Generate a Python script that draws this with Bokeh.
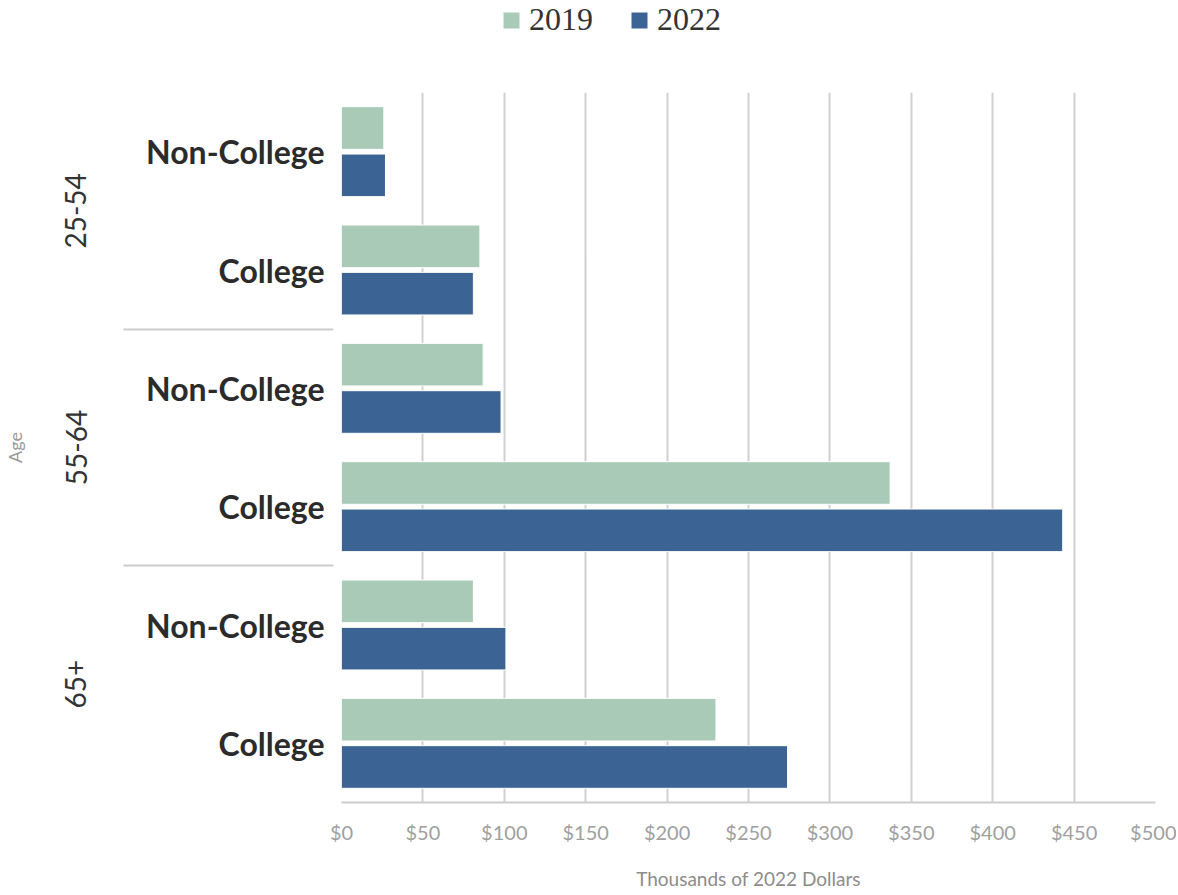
from bokeh.plotting import figure
from bokeh.layouts import column
from bokeh.models import (ColumnDataSource, FactorRange, Range1d, FixedTicker,
                          NumeralTickFormatter, Legend, LegendItem, CategoricalAxis)
from bokeh.transform import dodge
from bokeh.embed import file_html
from bokeh.resources import INLINE

# ---- data ----
ages = ["25-54", "55-64", "65+"]
edu = ["Non-College", "College"]
years = ["2019", "2022"]
v2019 = [26, 85, 87, 337, 81, 230]
v2022 = [27, 81, 98, 443, 101, 274]
x_ticks = [0, 50, 100, 150, 200, 250, 300, 350, 400, 450, 500]
colors = ["#a8cab7", "#3b6494"]

cats = [(a, e) for a in ages for e in edu]
factors = [(a, e) for a in reversed(ages) for e in reversed(edu)]
src = ColumnDataSource(dict(cat=cats, y2019=v2019, y2022=v2022))

W = 1176

# ---- legend strip (its frame is aligned with the chart frame by the column) ----
lg = figure(width=W, height=92, output_backend="svg", toolbar_location=None,
            x_range=Range1d(0, 1), y_range=Range1d(0, 1),
            min_border_left=0, min_border_right=0, min_border_top=0, min_border_bottom=0)
lg.axis.visible = False
lg.grid.visible = False
lg.outline_line_color = None
proxy = ColumnDataSource(dict(y=[0], right=[0]))
lr = [lg.hbar(y="y", right="right", height=0, source=proxy, fill_color=c,
              line_color=None) for c in colors]
legend = Legend(items=[LegendItem(label=yr, renderers=[r]) for yr, r in zip(years, lr)],
                orientation="horizontal", location=(160, 54),
                glyph_width=20, glyph_height=20, label_standoff=8, spacing=36,
                padding=0, margin=0, border_line_color=None,
                background_fill_alpha=0,
                label_text_font="Liberation Serif", label_text_font_size="32px",
                label_text_color="#333333")
lg.add_layout(legend, "center")

# ---- main chart ----
p = figure(width=W, height=801, output_backend="svg", toolbar_location=None,
           y_range=FactorRange(*factors, range_padding=0, group_padding=0,
                               factor_padding=0, subgroup_padding=0),
           x_range=Range1d(0, 500),
           min_border_left=341, min_border_right=21, min_border_top=0,
           min_border_bottom=91)
p.outline_line_color = None
sep_names = ["sep1", "sep2"]
p.extra_y_ranges = {
    "age": FactorRange(*reversed(ages), range_padding=0, factor_padding=0),
    "sep": FactorRange(*sep_names, range_padding=0.5, range_padding_units="absolute",
                       factor_padding=0),
}

p.hbar(y=dodge("cat", 0.2, range=p.y_range), right="y2019", height=0.36,
       left=0, source=src, fill_color=colors[0], line_color="white", line_width=1)
p.hbar(y=dodge("cat", -0.2, range=p.y_range), right="y2022", height=0.36,
       left=0, source=src, fill_color=colors[1], line_color="white", line_width=1)

# x axis
xa = p.xaxis[0]
xa.ticker = FixedTicker(ticks=x_ticks)
xa.formatter = NumeralTickFormatter(format="$0")
xa.major_tick_line_color = None
xa.minor_tick_line_color = None
xa.axis_line_color = "#cccccc"
xa.axis_line_width = 2
xa.major_label_text_font = "Lato"
xa.major_label_text_font_size = "20px"
xa.major_label_text_color = "#a0a0a0"
xa.major_label_standoff = 11
xa.axis_label = "Thousands of 2022 Dollars"
xa.axis_label_text_font = "Lato"
xa.axis_label_text_font_size = "19px"
xa.axis_label_text_font_style = "normal"
xa.axis_label_text_color = "#8c8c8c"
xa.axis_label_standoff = 20

# y axis (education, nested)
ya = p.yaxis[0]
ya.major_tick_line_color = None
ya.minor_tick_line_color = None
ya.axis_line_color = None
ya.major_label_text_font = "Lato"
ya.major_label_text_font_style = "bold"
ya.major_label_text_font_size = "32px"
ya.major_label_text_color = "#2b2b2b"
ya.major_label_standoff = 11
ya.group_text_font_size = "0px"
ya.group_text_color = None
ya.separator_line_color = None

# separator lines between age bands
sa = CategoricalAxis(y_range_name="sep")
sa.axis_line_color = None
sa.minor_tick_line_color = None
sa.major_tick_line_color = "#cccccc"
sa.major_tick_line_width = 2
sa.major_tick_in = 190
sa.major_tick_out = 20
sa.major_label_text_color = None
sa.major_label_text_font_size = "0px"
sa.major_label_standoff = 0
p.add_layout(sa, "left")

# age axis
aa = CategoricalAxis(y_range_name="age")
aa.major_label_orientation = "vertical"
aa.major_tick_line_color = None
aa.minor_tick_line_color = None
aa.axis_line_color = None
aa.major_label_text_font = "Lato"
aa.major_label_text_font_size = "28px"
aa.major_label_text_color = "#333333"
aa.major_label_standoff = 31
aa.axis_label = "Age"
aa.axis_label_text_font = "Lato"
aa.axis_label_text_font_size = "18px"
aa.axis_label_text_font_style = "normal"
aa.axis_label_text_color = "#999999"
aa.axis_label_standoff = 37
p.add_layout(aa, "left")

p.xgrid.grid_line_color = "#d0d0d0"
p.xgrid.grid_line_width = 2
p.ygrid.grid_line_color = None

layout = column(lg, p, spacing=0)
open("out.html", "w").write(file_html(layout, INLINE))
